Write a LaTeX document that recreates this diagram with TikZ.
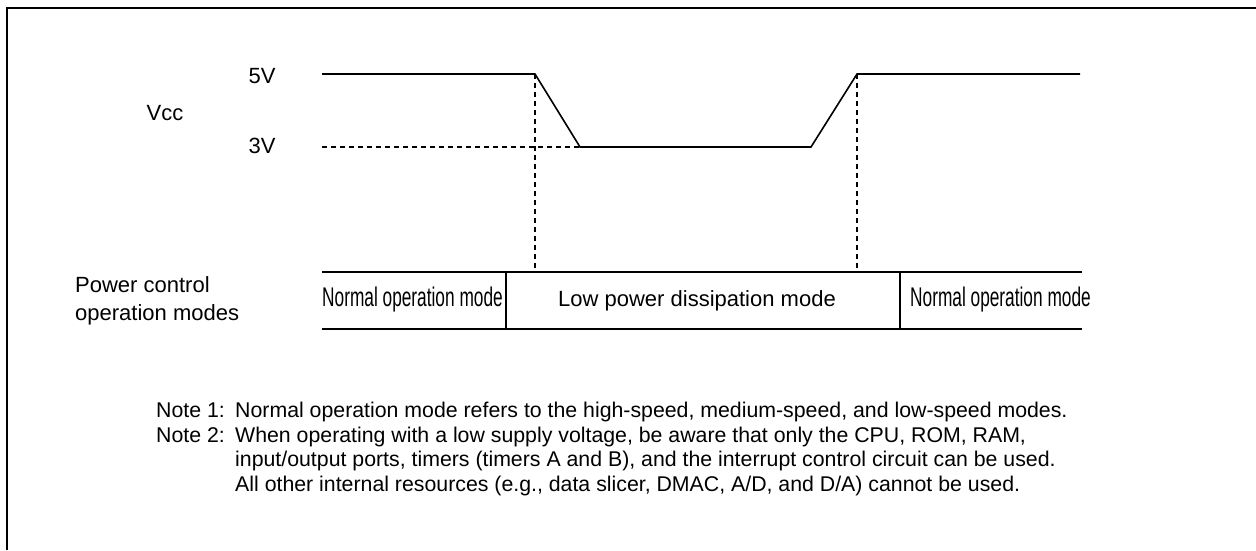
\documentclass[tikz,border=0pt]{standalone}
\usepackage{fontspec}
\setmainfont{Liberation Sans}
\newfontfamily\narrowfont[FakeStretch=0.64]{Liberation Sans}
\usetikzlibrary{positioning}

\begin{document}
\begin{tikzpicture}[x=1pt,y=-1pt,
		sig/.style={line width=1.6pt},
		guide/.style={line width=1.1pt,dash pattern=on 5pt off 4pt},
		lbl/.style={inner sep=0pt,font=\fontsize{22}{28}\selectfont},
		modetxt/.style={inner sep=0pt,font=\narrowfont\fontsize{27}{30}\selectfont},
		note/.style={inner sep=0pt,anchor=base west,font=\fontsize{21.3}{24}\selectfont}]
	\useasboundingbox (0,0) rectangle (1256,550);
	\draw[line width=2.2pt] (7,550) -- (7,8) -- (1256,8);
	% Vcc waveform
	\coordinate (hiA) at (322,74);
	\coordinate (fall) at (535,74);
	\coordinate (loA) at (580,147);
	\coordinate (loB) at (811,147);
	\coordinate (rise) at (857,74);
	\coordinate (hiB) at (1080,74);
	\coordinate (ref3) at (322,147);
	\draw[sig] (hiA) -- (fall) -- (loA) -- (loB) -- (rise) -- (hiB);
	\draw[guide] (ref3) -- (loA);
	% mode row
	\coordinate (rowTL) at (322,272);
	\coordinate (rowTR) at (1082,272);
	\coordinate (rowBL) at (322,329);
	\coordinate (rowBR) at (1082,329);
	\coordinate (divA) at (506,272);
	\coordinate (divB) at (900,272);
	\draw[sig] (rowTL) -- (rowTR);
	\draw[sig] (rowBL) -- (rowBR);
	\draw[sig] (divA) -- (divA |- rowBL);
	\draw[sig] (divB) -- (divB |- rowBL);
	\draw[guide] (fall) -- (fall |- rowTL);
	\draw[guide] (rise) -- (rise |- rowTL);
	% labels
	\node[lbl] (v5) at (262,76) {5V};
	\node[lbl] (vcc) at (165,113) {Vcc};
	\node[lbl] (v3) at (262,146) {3V};
	\node[lbl,anchor=base west] (pwr) at (75,292) {Power control};
	\node[lbl,anchor=base west] (opm) at (75,320) {operation modes};
	\node[modetxt,anchor=base west] (nrmA) at (322,306) {Normal operation mode};
	\node[lbl,anchor=base] (lowp) at (697,306) {Low power dissipation mode};
	\node[modetxt,anchor=base west] (nrmB) at (910,306) {Normal operation mode};
	% notes
	\node[note] (n1) at (156,417) {Note 1:};
	\node[note] (t1) at (235,417) {Normal operation mode refers to the high-speed, medium-speed, and low-speed modes.};
	\node[note] (n2) at (156,442) {Note 2:};
	\node[note] (t2a) at (235,442) {When operating with a low supply voltage, be aware that only the CPU, ROM, RAM,};
	\node[note] (t2b) at (235,466) {input/output ports, timers (timers A and B), and the interrupt control circuit can be used.};
	\node[note] (t2c) at (235,491) {All other internal resources (e.g., data slicer, DMAC, A/D, and D/A) cannot be used.};
\end{tikzpicture}
\end{document}
